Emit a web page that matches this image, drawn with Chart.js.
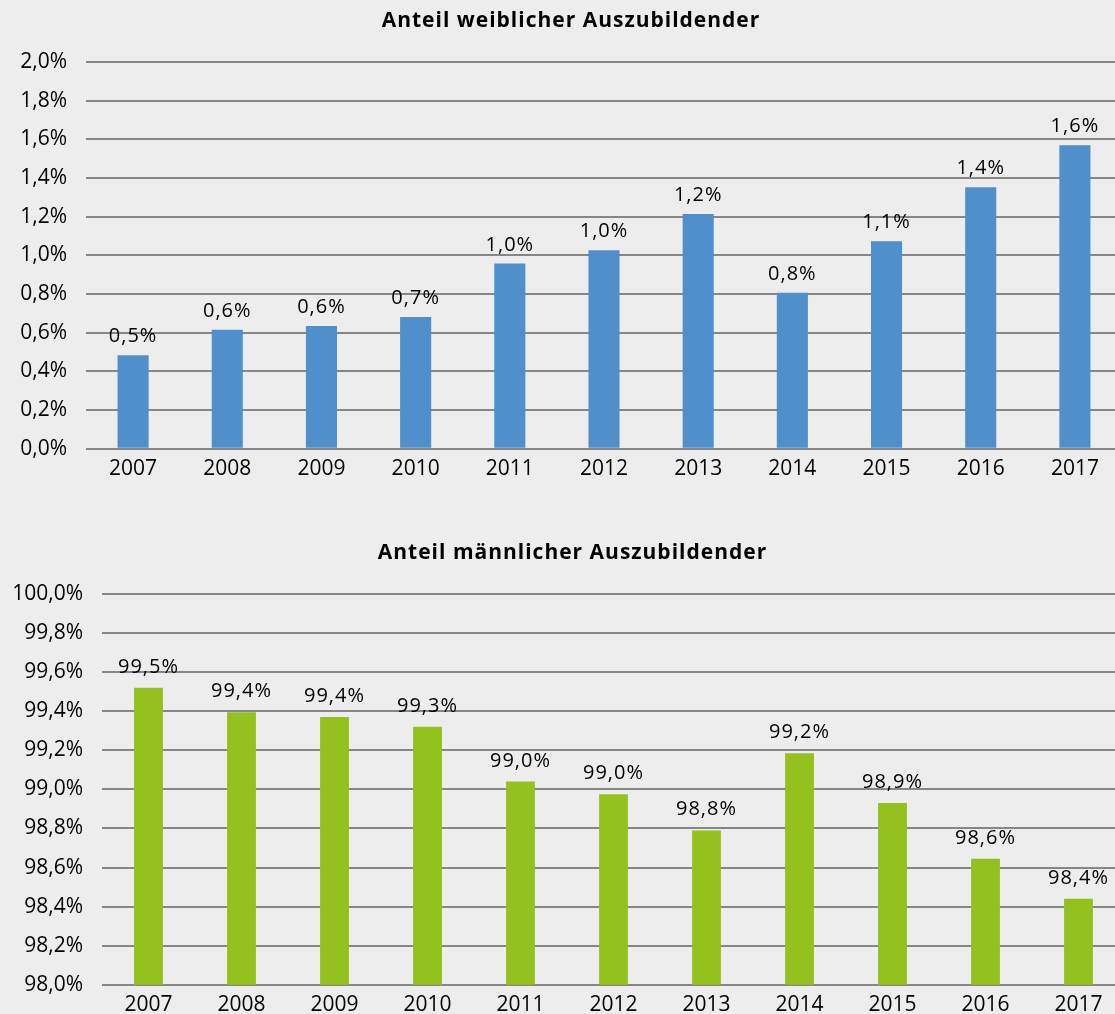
<!DOCTYPE html>
<html lang="de">
<head>
<meta charset="utf-8">
<title>Anteil Auszubildender</title>
<script src="https://cdn.jsdelivr.net/npm/chart.js@4.4.1/dist/chart.umd.min.js"></script>
<style>
    html, body { margin: 0; padding: 0; background: #ededed; overflow: hidden; }
    #wrap { position: relative; width: 1115px; height: 1014px; overflow: hidden; }
    #chartWeiblich { position: absolute; left: 0; top: 0; }
    #chartMaennlich { position: absolute; left: 0; top: 532px; }
</style>
</head>
<body>
<div id="wrap">
    <canvas id="chartWeiblich" width="1122" height="490"></canvas>
    <canvas id="chartMaennlich" width="1125" height="494"></canvas>
</div>
<script>
const jahre = ['2007', '2008', '2009', '2010', '2011', '2012', '2013', '2014', '2015', '2016', '2017'];
const anteilWeiblich = [0.484, 0.615, 0.635, 0.682, 0.958, 1.026, 1.214, 0.807, 1.073, 1.352, 1.570];
const anteilMaennlich = [99.52, 99.395, 99.37, 99.32, 99.04, 98.975, 98.79, 99.185, 98.93, 98.645, 98.44];
const achseWeiblich = { min: 0, max: 2, step: 0.2 };
const achseMaennlich = { min: 98, max: 100, step: 0.2 };

Chart.defaults.font.family = "'Open Sans', 'DejaVu Sans', sans-serif";
Chart.defaults.color = '#000';

// Prozent mit Komma
function formatProzent(v) {
    return Number(v).toFixed(1).replace('.', ',') + '%';
}

// Titel und Werte über den Balken, leicht gesperrt wie im Original
const beschriftung = {
    id: 'beschriftung',
    afterDatasetsDraw(chart, args, opts) {
        const ctx = chart.ctx;
        const meta = chart.getDatasetMeta(0);
        const data = chart.data.datasets[0].data;
        ctx.save();
        ctx.letterSpacing = '1px';
        ctx.fillStyle = '#000';
        ctx.textAlign = 'center';

        ctx.font = "bold 21px 'Open Sans', sans-serif";
        ctx.textBaseline = 'middle';
        ctx.fillText(opts.titel, (chart.width + 20) / 2, 21);

        ctx.font = "20px 'Open Sans', sans-serif";
        ctx.textBaseline = 'alphabetic';
        meta.data.forEach((bar, i) => {
            ctx.fillText(formatProzent(data[i]), bar.x, bar.y - opts.offset);
        });
        ctx.restore();
    }
};

function baueChart(id, titel, werte, farbe, achse, opt) {
    const ctx = document.getElementById(id).getContext('2d');
    return new Chart(ctx, {
        type: 'bar',
        data: {
            labels: jahre,
            datasets: [{
                data: werte,
                backgroundColor: farbe,
                borderWidth: 0,
                barPercentage: 1,
                categoryPercentage: opt.breite
            }]
        },
        options: {
            responsive: false,
            animation: false,
            layout: { padding: { left: 0, right: 0, top: 62, bottom: 0 } },
            plugins: {
                legend: { display: false },
                tooltip: { enabled: false },
                title: { display: false },
                beschriftung: { titel: titel, offset: opt.offset }
            },
            scales: {
                x: {
                    grid: { display: false, drawTicks: false },
                    border: { display: false },
                    ticks: { font: { size: 21 }, color: '#000', padding: 8 }
                },
                y: {
                    min: achse.min,
                    max: achse.max,
                    afterFit(scale) { scale.width = opt.achsenBreite; },
                    grid: { color: '#868686', lineWidth: 2, drawTicks: false },
                    border: { display: false },
                    ticks: {
                        stepSize: achse.step,
                        font: { size: 21 },
                        color: '#000',
                        padding: 19,
                        callback: v => formatProzent(v)
                    }
                }
            }
        },
        plugins: [beschriftung]
    });
}

baueChart('chartWeiblich', 'Anteil weiblicher Auszubildender', anteilWeiblich, '#4f8fcc', achseWeiblich,
    { breite: 0.33, offset: 13, achsenBreite: 86 });
baueChart('chartMaennlich', 'Anteil männlicher Auszubildender', anteilMaennlich, '#95c11f', achseMaennlich,
    { breite: 0.31, offset: 15, achsenBreite: 102 });
</script>
</body>
</html>
